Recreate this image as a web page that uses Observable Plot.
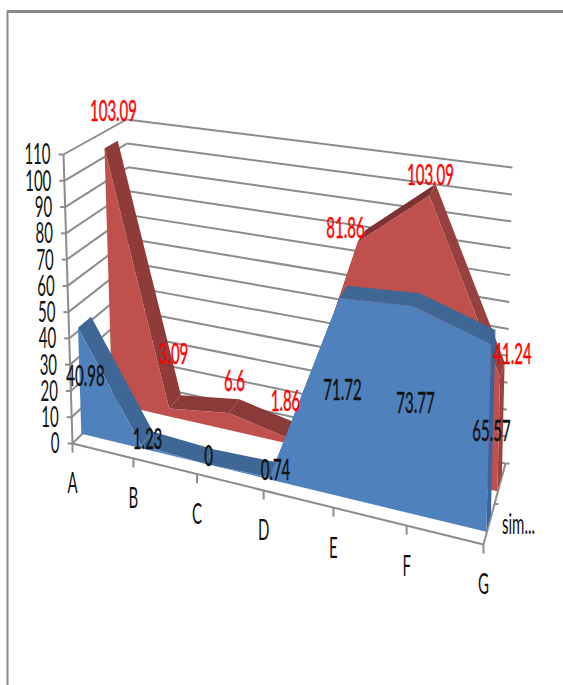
<!DOCTYPE html>
<html>
<head>
<meta charset="utf-8">
<script src="https://cdn.jsdelivr.net/npm/d3@7"></script>
<script src="https://cdn.jsdelivr.net/npm/@observablehq/plot@0.6"></script>
<style>
  html, body { margin: 0; padding: 0; background: #fff; }
  svg { display: block; }
</style>
</head>
<body>
<div id="chart"></div>
<script>
const categories = ["A", "B", "C", "D", "E", "F", "G"];
const blueValues = [40.98, 1.23, 0, 0.74, 71.72, 73.77, 65.57];
const redValues = [103.09, 3.09, 6.6, 1.86, 81.86, 103.09, 41.24];
const valueTicks = [0, 10, 20, 30, 40, 50, 60, 70, 80, 90, 100, 110];
const seriesLabel = "sim...";

// Where each value label sits on the page.
const blueLabelPos = [[85, 377], [147, 440], [208, 457], [275, 471], [342, 391], [415, 404], [491, 432]];
const redLabelPos = [[113, 112], [173, 355], [234, 382], [285, 402], [345, 229], [430, 176], [512, 355]];

// Corners of the 3D plot box on the page: [front/back][bottom/top][left/right].
const box = {
  fbl: [72, 443], ftl: [63, 154], fbr: [483, 544], ftr: [491, 226],
  bbl: [134, 382], btl: [126, 119], bbr: [505, 463], btr: [512, 167]
};
const lerp = (a, b, t) => [a[0] + (b[0] - a[0]) * t, a[1] + (b[1] - a[1]) * t];

// Perspective foreshortening along the category axis.
const warp = (t, k = 1.15) => t / (t + k * (1 - t));

// Projects (category index, value, depth 0..1) to page coordinates.
function project(u, v, w) {
  const s = warp(u / 6), t = v / 110;
  const bottom = lerp(lerp(box.fbl, box.fbr, s), lerp(box.bbl, box.bbr, s), w);
  const top = lerp(lerp(box.ftl, box.ftr, s), lerp(box.btl, box.btr, s), w);
  return lerp(bottom, top, t);
}

// One ribbon per series: depth band plus the colours of each face.
function ribbon(values, w0, w1, face, endFace, strips) {
  const idx = d3.range(values.length);
  const frontFace = idx.map((i) => {
    const a = project(i, values[i], w0), b = project(i, 0, w0);
    return {x1: a[0], y1: a[1], x2: b[0], y2: b[1], fill: face, seg: "front"};
  });
  const stripFaces = d3.range(values.length - 1).flatMap((i) =>
    [i, i + 1].map((j) => {
      const a = project(j, values[j], w0), b = project(j, values[j], w1);
      return {x1: a[0], y1: a[1], x2: b[0], y2: b[1], fill: strips[i], seg: i};
    })
  );
  const last = values.length - 1;
  const endFaces = [w0, w1].map((w) => {
    const a = project(last, values[last], w), b = project(last, 0, w);
    return {x1: a[0], y1: a[1], x2: b[0], y2: b[1], fill: endFace, seg: "end"};
  });
  const areaOptions = {x1: "x1", y1: "y1", x2: "x2", y2: "y2", z: "seg", fill: "fill", curve: "linear"};
  return [
    Plot.area(stripFaces, areaOptions),
    Plot.area(endFaces, areaOptions),
    Plot.area(frontFace, areaOptions)
  ];
}

// Straight segments between two projected points.
const seg = (a, b) => ({x1: a[0], y1: a[1], x2: b[0], y2: b[1]});
const gridBack = valueTicks.map((v) => seg(project(0, v, 1), project(6, v, 1)));
const gridSide = valueTicks.map((v) => seg(project(0, v, 0), project(0, v, 1)));
const axisLines = [
  seg(project(0, 0, 0), project(0, 110, 0)),
  seg(project(0, 0, 0), project(6, 0, 0)),
  seg(project(6, 0, 0), project(6, 0, 1))
];
const tickMarks = [
  ...valueTicks.map((v) => { const p = project(0, v, 0); return seg([p[0] - 5, p[1]], p); }),
  ...categories.map((c, i) => { const p = project(i, 0, 0); return seg(p, [p[0], p[1] + 9]); }),
  ...[0.5, 1].map((w) => { const p = project(6, 0, w); return seg(p, [p[0] + 4, p[1]]); })
];

const line = {x1: "x1", y1: "y1", x2: "x2", y2: "y2", stroke: "#8c8c8c", strokeWidth: 2};
const textFont = {fontFamily: "Lato, 'Liberation Sans', sans-serif", fontSize: 25};

const valueLabels = (values, positions, color) =>
  Plot.text(values, {
    x: (d, i) => positions[i][0],
    y: (d, i) => positions[i][1],
    text: (d) => String(d),
    fill: color,
    stroke: color,
    strokeWidth: 0.4,
    textAnchor: "middle",
    ...textFont
  });

const chart = Plot.plot({
  width: 563,
  height: 685,
  margin: 0,
  x: {type: "identity", axis: null},
  y: {type: "identity", axis: null},
  color: {type: "identity"},
  marks: [
    // Frame around the chart area
    Plot.ruleY([11], {x1: 7, x2: 563, stroke: "#8a8a8a", strokeWidth: 3}),
    Plot.ruleX([7], {y1: 11, y2: 685, stroke: "#8a8a8a", strokeWidth: 2}),
    // Walls and axes
    Plot.link(gridBack, {...line, curve: "linear"}),
    Plot.link(gridSide, {...line, curve: "linear"}),
    Plot.link(axisLines, {...line, curve: "linear"}),
    Plot.link(tickMarks, {...line, curve: "linear"}),
    // Ribbons, back series first
    ...ribbon(redValues, 0.65, 0.86, "#c0504d", "#9c413e",
      ["#8f3b39", "#8a3a38", "#8a3a38", "#8a3a38", "#7d3331", "#97403d"]),
    ...ribbon(blueValues, 0.15, 0.36, "#4f81bd", "#3a659c",
      ["#3f6795", "#3f6795", "#3f6795", "#3f6795", "#3f6795", "#3f6795"]),
    // Tick labels
    Plot.text(valueTicks, {
      x: (v) => project(0, v, 0)[0] - 13,
      y: (v) => project(0, v, 0)[1] + 1,
      text: (v) => String(v),
      textAnchor: "end",
      fill: "#111",
      ...textFont
    }),
    Plot.text(categories, {
      x: (c, i) => project(i, 0, 0)[0],
      y: (c, i) => project(i, 0, 0)[1] + 41,
      text: (c) => c,
      textAnchor: "middle",
      fill: "#111",
      ...textFont
    }),
    Plot.text([seriesLabel], {
      x: () => project(6, 0, 0.5)[0] + 24,
      y: () => project(6, 0, 0.5)[1] + 21,
      text: (d) => d,
      textAnchor: "middle",
      fill: "#111",
      ...textFont
    }),
    // Value labels
    valueLabels(redValues, redLabelPos, "#ff0000"),
    valueLabels(blueValues, blueLabelPos, "#111")
  ]
});

// The type is set narrow and tall, so each text is squeezed horizontally around its anchor.
chart.querySelectorAll("text").forEach((t) => {
  t.setAttribute("transform", (t.getAttribute("transform") || "") + " scale(0.6,1.12)");
});

document.getElementById("chart").append(chart);
</script>
</body>
</html>
